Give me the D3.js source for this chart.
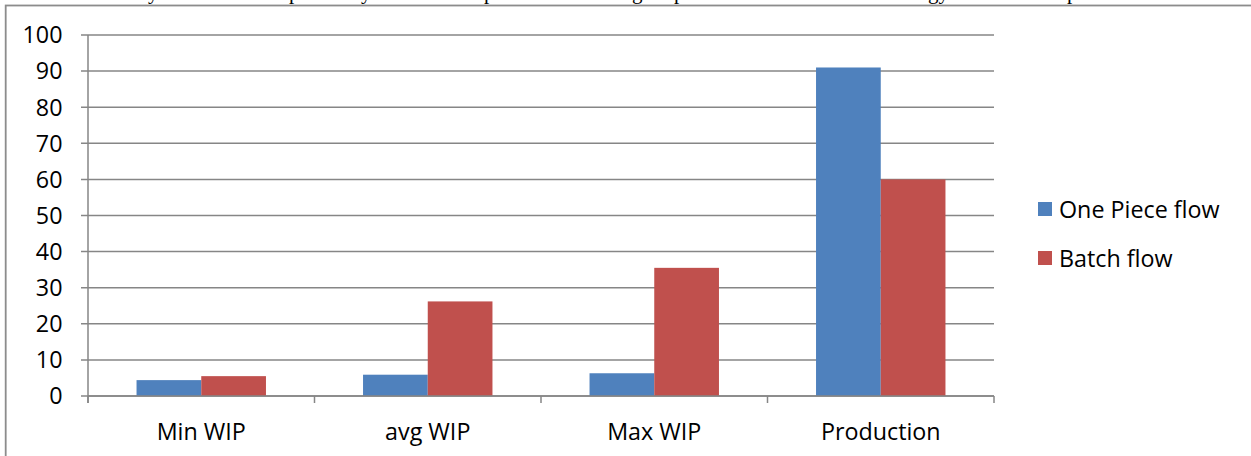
<!DOCTYPE html>
<html>
<head>
<meta charset="utf-8">
<script src="https://cdn.jsdelivr.net/npm/d3@7"></script>
<style>
  html, body { margin: 0; padding: 0; background: #fff; }
  svg { display: block; }
</style>
</head>
<body>
<svg id="chart" width="1251" height="456"></svg>
<script>
// ---- data ----
const categories = ["Min WIP", "avg WIP", "Max WIP", "Production"];
const seriesNames = ["One Piece flow", "Batch flow"];
const onePieceFlow = [4.4, 5.9, 6.3, 91];
const batchFlow = [5.5, 26.2, 35.5, 60];
const yTicks = [0, 10, 20, 30, 40, 50, 60, 70, 80, 90, 100];
const seriesColors = ["#4F81BD", "#C0504D"];
// fragments of the document text line above the chart (only descenders visible)
const topFragments = [
  { t: "y", x: 148 }, { t: "p", x: 289 }, { t: "y", x: 361 }, { t: "p", x: 484 },
  { t: "g", x: 632 }, { t: "p", x: 674 }, { t: "gy", x: 928 }, { t: "p", x: 1067 }
];

const seriesValues = [onePieceFlow, batchFlow];
const FONT = "'Open Sans', 'Noto Sans', sans-serif";
const FS = 23.3;

const svg = d3.select("#chart");
svg.append("rect").attr("width", 1251).attr("height", 456).attr("fill", "#fff");

// document text fragments
svg.append("g").selectAll("text").data(topFragments).join("text")
  .attr("x", d => d.x).attr("y", -1.5)
  .attr("font-family", "'Liberation Serif', 'DejaVu Serif', serif")
  .attr("font-size", 21)
  .attr("fill", "#000")
  .text(d => d.t);

// chart frame
svg.append("rect")
  .attr("x", 5.7).attr("y", 5.5).attr("width", 1260).attr("height", 470)
  .attr("fill", "none").attr("stroke", "#8c8c8c").attr("stroke-width", 1.8);

const plotL = 88, plotR = 994, plotT = 35, plotB = 396;
const y = d3.scaleLinear().domain([0, 100]).range([plotB, plotT]);
const x0 = d3.scaleBand().domain(categories).range([plotL, plotR]).padding(0);
const x1 = d3.scaleBand().domain(seriesNames).range([0, x0.bandwidth()])
  .paddingInner(0).paddingOuter(0.75);

const gridColor = "#868686";

// gridlines
svg.append("g").selectAll("line").data(yTicks).join("line")
  .attr("x1", plotL - 7).attr("x2", plotR)
  .attr("y1", d => y(d)).attr("y2", d => y(d))
  .attr("stroke", gridColor).attr("stroke-width", 1.5);

// bars
const groups = svg.append("g").selectAll("g").data(categories).join("g")
  .attr("transform", c => `translate(${x0(c)},0)`);
groups.selectAll("rect")
  .data((c, i) => seriesNames.map((s, k) => ({ s, k, v: seriesValues[k][i] })))
  .join("rect")
  .attr("x", d => x1(d.s))
  .attr("width", x1.bandwidth())
  .attr("y", d => y(d.v))
  .attr("height", d => y(0) - y(d.v))
  .attr("fill", d => seriesColors[d.k]);

// y axis line
svg.append("line")
  .attr("x1", plotL).attr("x2", plotL).attr("y1", plotT).attr("y2", plotB + 7)
  .attr("stroke", gridColor).attr("stroke-width", 1.5);
// x axis line
svg.append("line")
  .attr("x1", plotL).attr("x2", plotR).attr("y1", plotB).attr("y2", plotB)
  .attr("stroke", gridColor).attr("stroke-width", 1.5);
// category ticks
const catEdges = categories.map(c => x0(c)).concat([x0.range()[1]]);
svg.append("g").selectAll("line").data(catEdges).join("line")
  .attr("x1", d => d).attr("x2", d => d).attr("y1", plotB).attr("y2", plotB + 7)
  .attr("stroke", gridColor).attr("stroke-width", 1.5);

// y tick labels
svg.append("g").selectAll("text").data(yTicks).join("text")
  .attr("x", 62.5).attr("y", d => y(d) + 8.3)
  .attr("text-anchor", "end")
  .attr("font-family", FONT).attr("font-size", FS)
  .attr("fill", "#000")
  .text(d => d);

// category labels
svg.append("g").selectAll("text").data(categories).join("text")
  .attr("x", c => x0(c) + x0.bandwidth() / 2).attr("y", 440)
  .attr("text-anchor", "middle")
  .attr("font-family", FONT).attr("font-size", FS)
  .attr("fill", "#000")
  .text(c => c);

// legend
const legend = svg.append("g").selectAll("g").data(seriesNames).join("g")
  .attr("transform", (d, i) => `translate(1038, ${202 + i * 49})`);
legend.append("rect").attr("width", 14).attr("height", 14)
  .attr("fill", (d, i) => seriesColors[i]);
legend.append("text").attr("x", 21).attr("y", 15.5)
  .attr("font-family", FONT).attr("font-size", FS).attr("fill", "#000")
  .text(d => d);
</script>
</body>
</html>
